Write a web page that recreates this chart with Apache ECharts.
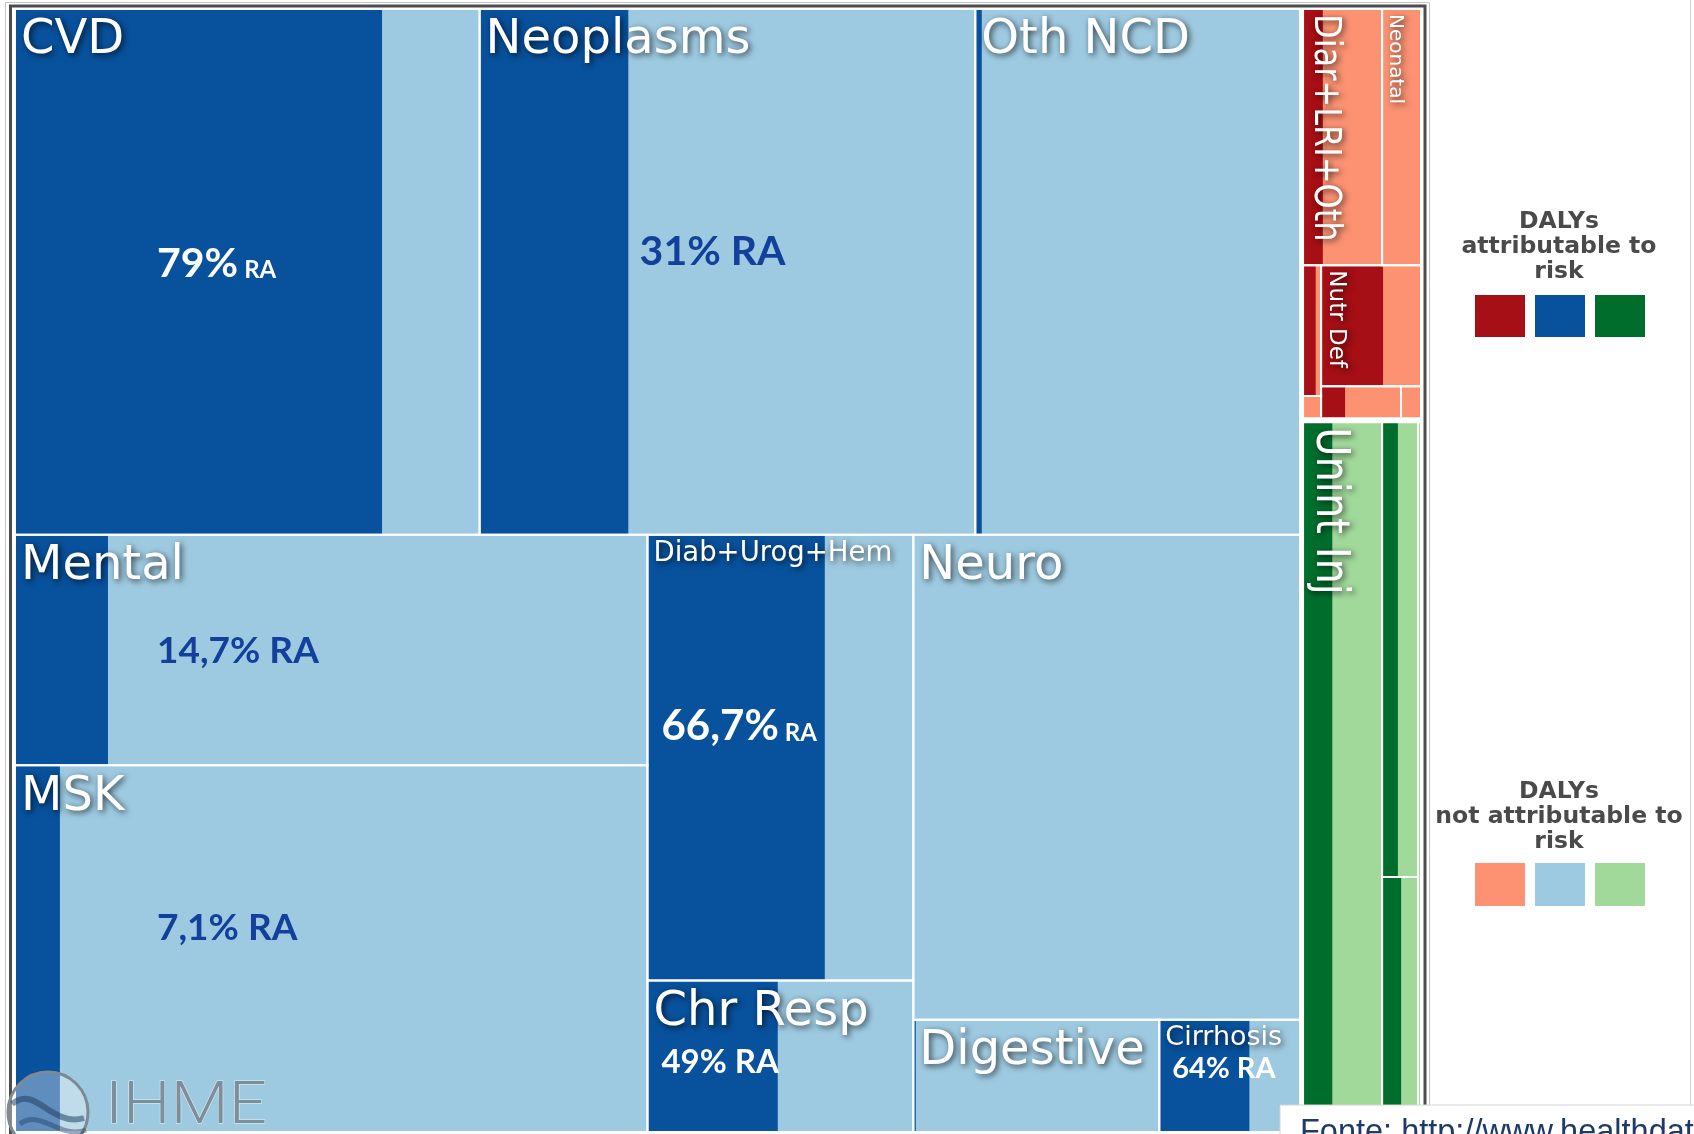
<!DOCTYPE html>
<html>
<head>
<meta charset="utf-8">
<script src="https://cdn.jsdelivr.net/npm/echarts@6/dist/echarts.min.js"></script>
<style>
  html, body { margin: 0; padding: 0; background: #fff; }
  #chart { width: 1694px; height: 1134px; }
</style>
</head>
<body>
<div id="chart"></div>
<script>
// causes of DALYs (level 2)
const causes = [
  'CVD', 'Neoplasms', 'Oth NCD', 'Mental', 'MSK', 'Diab+Urog+Hem', 'Chr Resp', 'Neuro', 'Digestive', 'Cirrhosis',
  'Diar+LRI+Oth', 'Neonatal', 'HIV+TB', 'Maternal', 'Nutr Def', 'NTD+Mal', 'Oth Comm',
  'Unint Inj', 'Transport', 'Violence', 'War+Disaster'
]
const family = [
  'ncd', 'ncd', 'ncd', 'ncd', 'ncd', 'ncd', 'ncd', 'ncd', 'ncd', 'ncd',
  'comm', 'comm', 'comm', 'comm', 'comm', 'comm', 'comm',
  'inj', 'inj', 'inj', 'inj'
]
// DALYs (thousands)
const dalys = [
  2439, 2602, 1705, 1456, 2317, 1184, 402, 1873, 276, 158,
  203, 100, 23.6, 4, 121, 25.6, 6.4,
  562, 164, 92, 21
]
// share of DALYs attributable to risk factors
const riskShare = [
  0.79, 0.30, 0.02, 0.147, 0.071, 0.667, 0.49, 0, 0.01, 0.64,
  0.25, 0, 0.7, 0, 0.62, 0.3, 0,
  0.37, 0.44, 0.53, 0
]

// how the boxes are nested: h = side by side, v = stacked
const tree = {
  dir: 'h', gap: 3, kids: [
    { dir: 'v', kids: [
      { dir: 'h', kids: ['CVD', 'Neoplasms', 'Oth NCD'] },
      { dir: 'h', kids: [
        { dir: 'v', kids: ['Mental', 'MSK'] },
        { dir: 'v', kids: ['Diab+Urog+Hem', 'Chr Resp'] },
        { dir: 'v', kids: ['Neuro', { dir: 'h', kids: ['Digestive', 'Cirrhosis'] }] }
      ] }
    ] },
    { dir: 'v', gap: 4, kids: [
      { dir: 'v', kids: [
        { dir: 'h', kids: ['Diar+LRI+Oth', 'Neonatal'] },
        { dir: 'h', kids: [
          { dir: 'v', kids: ['HIV+TB', 'Maternal'] },
          { dir: 'v', kids: ['Nutr Def', { dir: 'h', kids: ['NTD+Mal', 'Oth Comm'] }] }
        ] }
      ] },
      { dir: 'h', kids: ['Unint Inj', { dir: 'v', kids: ['Transport', 'Violence'] }, 'War+Disaster'] }
    ] }
  ]
}

const colors = {
  ncd: ['#08519c', '#9ecae1'],
  comm: ['#a50f15', '#fc9272'],
  inj: ['#006d2c', '#a1d99b']
}
const labelSize = {
  'CVD': 48, 'Neoplasms': 48, 'Oth NCD': 48, 'Mental': 48, 'MSK': 48, 'Diab+Urog+Hem': 27.5,
  'Chr Resp': 48, 'Neuro': 48, 'Digestive': 48, 'Cirrhosis': 27,
  'Diar+LRI+Oth': 33, 'Neonatal': 20, 'Nutr Def': 23, 'Unint Inj': 40
}
// rotated labels: [stretch across, squeeze along]
const vertical = {
  'Diar+LRI+Oth': [1.15, 0.97],
  'Neonatal': [1, 1],
  'Nutr Def': [1, 1],
  'Unint Inj': [1.15, 1]
}
// "% RA" notes pasted on top of the boxes (offset from box corner, to baseline)
const notes = {
  'CVD': { big: '79%', small: 'RA', size: 41, color: '#fff', dx: 142, dy: 271 },
  'Neoplasms': { big: '31% RA', size: 41, color: '#12409a', dx: 160, dy: 259 },
  'Mental': { big: '14,7% RA', size: 37, color: '#12409a', dx: 142, dy: 131 },
  'MSK': { big: '7,1% RA', size: 37, color: '#12409a', dx: 142, dy: 177 },
  'Diab+Urog+Hem': { big: '66,7%', small: 'RA', size: 42, color: '#fff', dx: 14, dy: 208 },
  'Chr Resp': { big: '49% RA', size: 33, color: '#fff', dx: 14, dy: 95 },
  'Cirrhosis': { big: '64% RA', size: 29, color: '#fff', dx: 13, dy: 60 }
}

const W = 1406
const H = 1123

const byName = {}
causes.forEach((c, i) => (byName[c] = i))
const total = node => (typeof node === 'string' ? dalys[byName[node]] : node.kids.reduce((s, k) => s + total(k), 0))

const cells = []
const place = (node, x0, y0, x1, y1) => {
  if (typeof node === 'string') {
    cells.push([x0, y0, x1, y1, byName[node]])
    return
  }
  const gap = node.gap || 0
  const sum = total(node)
  const span = (node.dir === 'h' ? x1 - x0 : y1 - y0) - gap * (node.kids.length - 1)
  let pos = node.dir === 'h' ? x0 : y0
  node.kids.forEach(k => {
    const size = (span * total(k)) / sum
    if (node.dir === 'h') place(k, pos, y0, pos + size, y1)
    else place(k, x0, pos, x1, pos + size)
    pos += size + gap
  })
}
place(tree, 0, 0, W, H)

const ctx = document.createElement('canvas').getContext('2d')
const textWidth = (t, font) => {
  ctx.font = font
  return ctx.measureText(t).width
}

const shadow = {
  textShadowColor: 'rgba(0,0,0,0.7)',
  textShadowBlur: 6,
  textShadowOffsetX: 2,
  textShadowOffsetY: 2
}

const renderItem = (params, api) => {
  const i = api.value(4)
  const name = causes[i]
  const p0 = api.coord([api.value(0), api.value(1)])
  const p1 = api.coord([api.value(2), api.value(3)])
  const x = p0[0]
  const y = p0[1]
  const w = p1[0] - p0[0]
  const h = p1[1] - p0[1]
  const col = colors[family[i]]
  const children = [
    { type: 'rect', shape: { x, y, width: w, height: h }, style: { fill: col[1] } },
    { type: 'rect', shape: { x, y, width: w * riskShare[i], height: h }, style: { fill: col[0] } },
    { type: 'rect', z2: 5, shape: { x, y, width: w, height: h }, style: { fill: 'none', stroke: '#fff', lineWidth: 2 } }
  ]
  const size = labelSize[name]
  if (size) {
    const rot = vertical[name]
    if (rot) {
      children.push({
        type: 'text', z2: 10, x: x + 3, y: y + 5, rotation: -Math.PI / 2, scaleX: rot[1], scaleY: rot[0],
        style: { text: name, fill: '#fff', fontSize: size, fontFamily: 'DejaVu Sans', align: 'left', verticalAlign: 'bottom', ...shadow }
      })
    } else {
      children.push({
        type: 'text', z2: 10, x: x + 6, y: y + (size > 30 ? 8 : 5),
        style: { text: name, fill: '#fff', fontSize: size, fontFamily: 'DejaVu Sans', align: 'left', verticalAlign: 'top', ...shadow }
      })
    }
  }
  const n = notes[name]
  if (n) {
    const bigFont = 'bold ' + n.size + 'px Lato'
    children.push({
      type: 'text', z2: 11, x: x + n.dx, y: y + n.dy - 0.387 * n.size,
      style: { text: n.big, fill: n.color, font: bigFont, align: 'left', verticalAlign: 'middle' }
    })
    if (n.small) {
      children.push({
        type: 'text', z2: 11, x: x + n.dx + textWidth(n.big, bigFont) + 6, y: y + n.dy - 0.387 * 24,
        style: { text: n.small, fill: n.color, font: 'bold 24px Lato', align: 'left', verticalAlign: 'middle' }
      })
    }
  }
  return { type: 'group', children }
}

const legendText = (y, text) => ({
  type: 'text', x: 1559, y,
  style: { text, fill: '#4a4a4a', font: 'bold 23.5px "DejaVu Sans"', align: 'center', verticalAlign: 'middle', lineHeight: 25 }
})
const legendBoxes = (y, h, k) =>
  ['comm', 'ncd', 'inj'].map((f, j) => ({
    type: 'rect',
    shape: { x: 1475 + j * 60, y, width: 50, height: h },
    style: { fill: colors[f][k] }
  }))

const chart = echarts.init(document.getElementById('chart'))
chart.setOption({
  animation: false,
  grid: { left: 15, top: 9, width: W, height: H },
  xAxis: { type: 'value', min: 0, max: W, show: false },
  yAxis: { type: 'value', min: 0, max: H, inverse: true, show: false },
  series: [
    {
      type: 'custom',
      renderItem,
      data: cells
    }
  ],
  graphic: [
    // frame
    { type: 'rect', shape: { x: 5.5, y: 2.5, width: 1424, height: 1150 }, style: { fill: 'none', stroke: '#c4c4c4', lineWidth: 1 }, z: 50 },
    { type: 'rect', shape: { x: 10.5, y: 6, width: 1414.5, height: 1150 }, style: { fill: 'none', stroke: '#4d4d4d', lineWidth: 3 }, z: 50 },
    { type: 'line', shape: { x1: 1690.5, y1: 0, x2: 1690.5, y2: 1105 }, style: { stroke: '#cfcfcf', lineWidth: 1 }, z: 50 },
    // legend
    legendText(247, 'DALYs\nattributable to\nrisk'),
    ...legendBoxes(295, 42, 0),
    legendText(817, 'DALYs\nnot attributable to\nrisk'),
    ...legendBoxes(863, 43, 1),
    // IHME logo
    { type: 'circle', shape: { cx: 48, cy: 1112, r: 40 }, style: { fill: 'rgba(255,255,255,0.35)', stroke: '#7d8a94', lineWidth: 3 }, z: 60 },
    { type: 'bezierCurve', shape: { x1: 12, y1: 1104, cpx1: 35, cpy1: 1084, cpx2: 52, cpy2: 1128, x2: 84, y2: 1118 }, style: { fill: 'none', stroke: 'rgba(35,65,100,0.55)', lineWidth: 6 }, z: 60 },
    { type: 'bezierCurve', shape: { x1: 20, y1: 1124, cpx1: 40, cpy1: 1108, cpx2: 60, cpy2: 1140, x2: 86, y2: 1130 }, style: { fill: 'none', stroke: 'rgba(35,65,100,0.45)', lineWidth: 5 }, z: 60 },
    { type: 'text', x: 105, y: 1108, scaleX: 1.12, style: { text: 'IHME', fill: '#7f8f9a', stroke: 'rgba(255,255,255,0.7)', lineWidth: 1, font: '300 60px Roboto', verticalAlign: 'middle' }, z: 60 },
    // source note
    { type: 'rect', shape: { x: 1280, y: 1105, width: 420, height: 40 }, style: { fill: '#fff', stroke: '#d4d4d4', lineWidth: 1 }, z: 70 },
    { type: 'text', x: 1300, y: 1117, style: { text: 'Fonte: http://www.healthdata.org/gbd', fill: '#1f3a68', font: '32.5px "Liberation Sans"', verticalAlign: 'top' }, z: 71 }
  ]
})
</script>
</body>
</html>
